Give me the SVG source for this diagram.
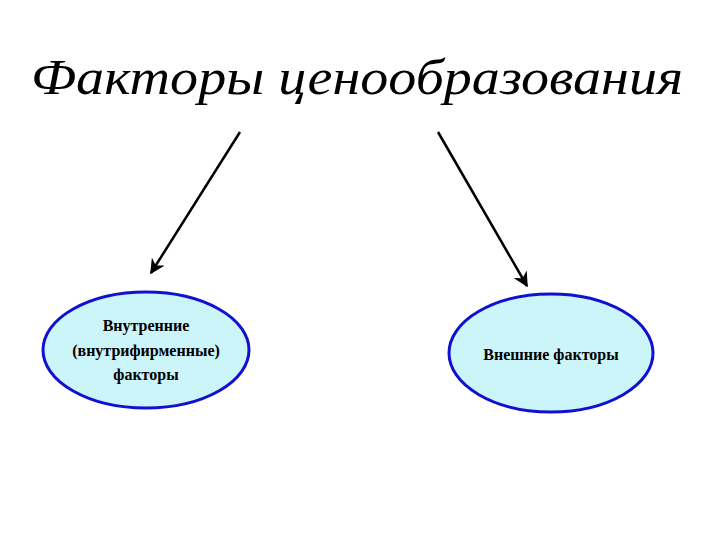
<svg xmlns="http://www.w3.org/2000/svg" width="720" height="540" viewBox="0 0 720 540">
<style>
.title{font-family:"Liberation Serif",serif;font-style:italic;font-size:50px;fill:#000}
.lbl{font-family:"Liberation Serif",serif;font-weight:bold;font-size:16px;fill:#000;text-anchor:middle}
.node{fill:#ccf5fa;stroke:#1010d0;stroke-width:3}
.conn{stroke:#000;stroke-width:2.5;fill:none;marker-end:url(#ah)}
</style>
<defs>
<marker id="ah" viewBox="0 0 10 10" refX="9" refY="5" markerWidth="6" markerHeight="6" orient="auto" markerUnits="strokeWidth">
<path d="M0,0 L10,5 L0,10 L3,5 Z" fill="#000"/>
</marker>
</defs>
<rect width="720" height="540" fill="#fff"/>
<text class="title" x="357" y="94" text-anchor="middle" textLength="652" lengthAdjust="spacingAndGlyphs">Факторы ценообразования</text>
<g id="connectors">
<line class="conn" x1="240" y1="132" x2="151" y2="273"/>
<line class="conn" x1="438" y1="132" x2="527" y2="286"/>
</g>
<g id="internal">
<ellipse class="node" cx="146" cy="350" rx="103" ry="58"/>
<text class="lbl" x="146" y="331">Внутренние</text>
<text class="lbl" x="146" y="356">(внутрифирменные)</text>
<text class="lbl" x="146" y="380">факторы</text>
</g>
<g id="external">
<ellipse class="node" cx="551" cy="353" rx="102" ry="59"/>
<text class="lbl" x="551" y="360">Внешние факторы</text>
</g>
</svg>
